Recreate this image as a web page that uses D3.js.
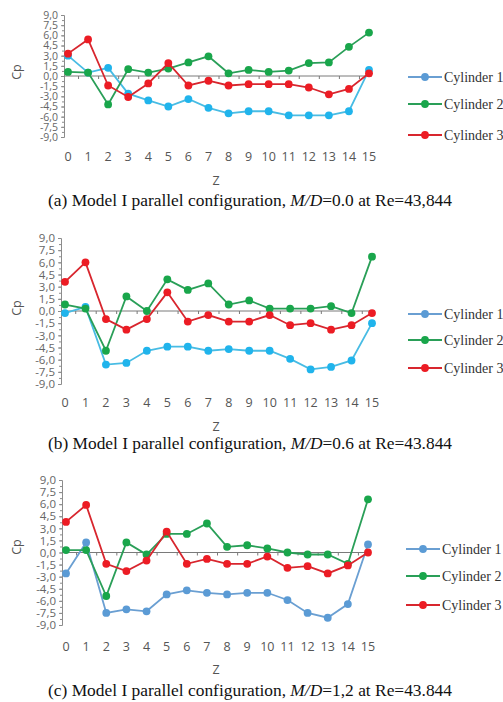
<!DOCTYPE html>
<html><head><meta charset="utf-8">
<script src="https://cdn.jsdelivr.net/npm/d3@7"></script>
<style>body{margin:0;background:#fff}</style>
</head><body>
<svg id="c" width="503" height="702"></svg>
<script>
const zValues = d3.range(0, 16);
const yTicks = [9, 7.5, 6, 4.5, 3, 1.5, 0, -1.5, -3, -4.5, -6, -7.5, -9];
const seriesNames = ["Cylinder 1", "Cylinder 2", "Cylinder 3"];

const a_cyl1 = [3.0, 0.5, 1.2, -2.6, -3.6, -4.5, -3.4, -4.7, -5.5, -5.2, -5.2, -5.8, -5.8, -5.8, -5.2, 0.9];
const a_cyl2 = [0.6, 0.5, -4.2, 1.0, 0.5, 1.1, 2.0, 2.9, 0.4, 0.9, 0.6, 0.8, 1.9, 2.0, 4.3, 6.4];
const a_cyl3 = [3.3, 5.4, -1.4, -3.1, -1.1, 1.9, -1.4, -0.7, -1.4, -1.2, -1.2, -1.2, -1.7, -2.7, -1.9, 0.4];

const b_cyl1 = [-0.25, 0.5, -6.6, -6.4, -4.9, -4.4, -4.4, -4.9, -4.7, -4.9, -4.9, -5.9, -7.2, -6.9, -6.1, -1.5];
const b_cyl2 = [0.8, 0.3, -4.9, 1.8, 0.0, 3.9, 2.6, 3.4, 0.8, 1.3, 0.3, 0.3, 0.3, 0.6, -0.25, 6.7];
const b_cyl3 = [3.6, 6.0, -1.0, -2.3, -1.0, 2.3, -1.3, -0.5, -1.3, -1.3, -0.5, -1.75, -1.5, -2.3, -1.75, -0.25];

const c_cyl1 = [-2.6, 1.25, -7.5, -7.05, -7.3, -5.2, -4.7, -5.0, -5.2, -5.0, -5.0, -5.9, -7.5, -8.1, -6.4, 1.0];
const c_cyl2 = [0.3, 0.3, -5.4, 1.25, -0.25, 2.3, 2.3, 3.6, 0.7, 0.9, 0.5, 0.0, -0.25, -0.25, -1.4, 6.6];
const c_cyl3 = [3.8, 5.9, -1.4, -2.3, -1.0, 2.6, -1.4, -0.8, -1.4, -1.4, -0.5, -1.9, -1.7, -2.6, -1.6, 0.0];

const captions = [
  ["(a) Model I parallel configuration, ", "M/D", "=0.0 at Re=43,844"],
  ["(b) Model I parallel configuration, ", "M/D", "=0.6 at Re=43.844"],
  ["(c) Model I parallel configuration, ", "M/D", "=1,2 at Re=43.844"]
];

const panels = [
  {data:[a_cyl1,a_cyl2,a_cyl3], x0:68, x1:369, yTop:15, yBot:137, tickY:157, zY:181, capY:200, cpY:72, leg:[77,104,135], legX:408, fs:10.5,
   cols:["#20B4EC","#19A64B","#EC1C24"], lcols:["#48BCE4","#2A9F58","#D8262E"]},
  {data:[b_cyl1,b_cyl2,b_cyl3], x0:65, x1:372, yTop:238, yBot:384, tickY:403, zY:427, capY:443, cpY:308, leg:[314,340,368], legX:408, fs:11.5,
   cols:["#20B4EC","#19A64B","#EC1C24"], lcols:["#48BCE4","#2A9F58","#D8262E"]},
  {data:[c_cyl1,c_cyl2,c_cyl3], x0:66, x1:368, yTop:480, yBot:625, tickY:647, zY:670, capY:690, cpY:547, leg:[549,576,605], legX:406, fs:11.5,
   cols:["#5B9BD5","#19A64B","#EC1C24"], lcols:["#6A9FD2","#2A9F58","#D8262E"]}
];
const legCols = ["#5B9BD5","#19A64B","#EC1C24"];
const legLineCols = ["#6A9FD2","#2A9F58","#D8262E"];

const svg = d3.select("#c");
const fmt = v => d3.format(".1f")(v).replace(".", ",").replace("−","-");

panels.forEach((p, pi) => {
  const g = svg.append("g");
  const x = d3.scaleLinear().domain([0, 15]).range([p.x0, p.x1]);
  const y = d3.scaleLinear().domain([-9, 9]).range([p.yBot, p.yTop]);
  const axX = p.x0 - 4;

  // y axis
  const yAxis = d3.axisLeft(y).tickValues(yTicks).tickSize(3).tickFormat(fmt);
  const ya = g.append("g").attr("transform", `translate(${axX},0)`).call(yAxis);
  ya.select(".domain").attr("stroke", "#8c8c8c");
  ya.selectAll(".tick line").attr("stroke", "#8c8c8c");
  ya.selectAll(".tick text").attr("fill", "#666").attr("font-family", "Open Sans").attr("font-size", p.fs).attr("x", -6);
  // minor ticks
  const minor = d3.axisLeft(y).tickValues(d3.range(-9, 9.01, 0.75)).tickSize(2).tickFormat("");
  const ym = g.append("g").attr("transform", `translate(${axX},0)`).call(minor);
  ym.select(".domain").remove();
  ym.selectAll(".tick line").attr("stroke", "#8c8c8c");

  // zero line with category ticks
  const xAxis = d3.axisBottom(x).tickValues(d3.range(0.5, 15.5, 1)).tickSize(3).tickFormat("");
  const xa = g.append("g").attr("transform", `translate(0,${y(0)})`).call(xAxis);
  xa.select(".domain").attr("stroke", "#7a7a7a").attr("d", `M${axX},0H${p.x1 + 3}`);
  xa.selectAll(".tick line").attr("stroke", "#7a7a7a");

  // x tick labels
  g.append("g").selectAll("text").data(zValues).join("text")
    .attr("x", d => x(d)).attr("y", p.tickY).attr("dy", "0.35em")
    .attr("text-anchor", "middle").attr("font-family", "Open Sans").attr("font-size", 12.5)
    .attr("fill", "#555").text(d => d);

  g.append("text").attr("x", 216).attr("y", p.zY).attr("dy", "0.35em").attr("text-anchor", "middle")
    .attr("font-family", "Open Sans").attr("font-size", 12.5).attr("fill", "#555").text("Z");

  g.append("text").attr("transform", `translate(17,${p.cpY}) rotate(-90)`).attr("dy", "0.35em")
    .attr("text-anchor", "middle").attr("font-family", "Open Sans").attr("font-size", 12.5).attr("fill", "#555").text("Cp");

  // series
  const line = d3.line().x((d, i) => x(zValues[i])).y(d => y(d));
  p.data.forEach((arr, si) => {
    g.append("path").datum(arr).attr("d", line).attr("fill", "none")
      .attr("stroke", p.lcols[si]).attr("stroke-width", 1.8);
    g.append("g").selectAll("circle").data(arr).join("circle")
      .attr("cx", (d, i) => x(zValues[i])).attr("cy", d => y(d)).attr("r", 3.9)
      .attr("fill", p.cols[si]);
  });

  // legend
  p.leg.forEach((ly, si) => {
    g.append("line").attr("x1", p.legX).attr("x2", p.legX + 34).attr("y1", ly).attr("y2", ly)
      .attr("stroke", legLineCols[si]).attr("stroke-width", 1.8);
    g.append("circle").attr("cx", p.legX + 17).attr("cy", ly).attr("r", 3.9).attr("fill", legCols[si]);
    g.append("text").attr("x", p.legX + 36).attr("y", ly).attr("dy", "0.35em")
      .attr("font-family", "Liberation Serif").attr("font-size", 14).attr("fill", "#333").text(seriesNames[si]);
  });

  // caption
  const cap = g.append("text").attr("x", 250).attr("y", p.capY).attr("dy", "0.35em").attr("text-anchor", "middle")
    .attr("font-family", "Liberation Serif").attr("font-size", 16).attr("fill", "#111")
    .attr("textLength", 404).attr("lengthAdjust", "spacingAndGlyphs");
  cap.append("tspan").text(captions[pi][0]);
  cap.append("tspan").attr("font-style", "italic").text(captions[pi][1]);
  cap.append("tspan").text(captions[pi][2]);
});
</script>
</body></html>
